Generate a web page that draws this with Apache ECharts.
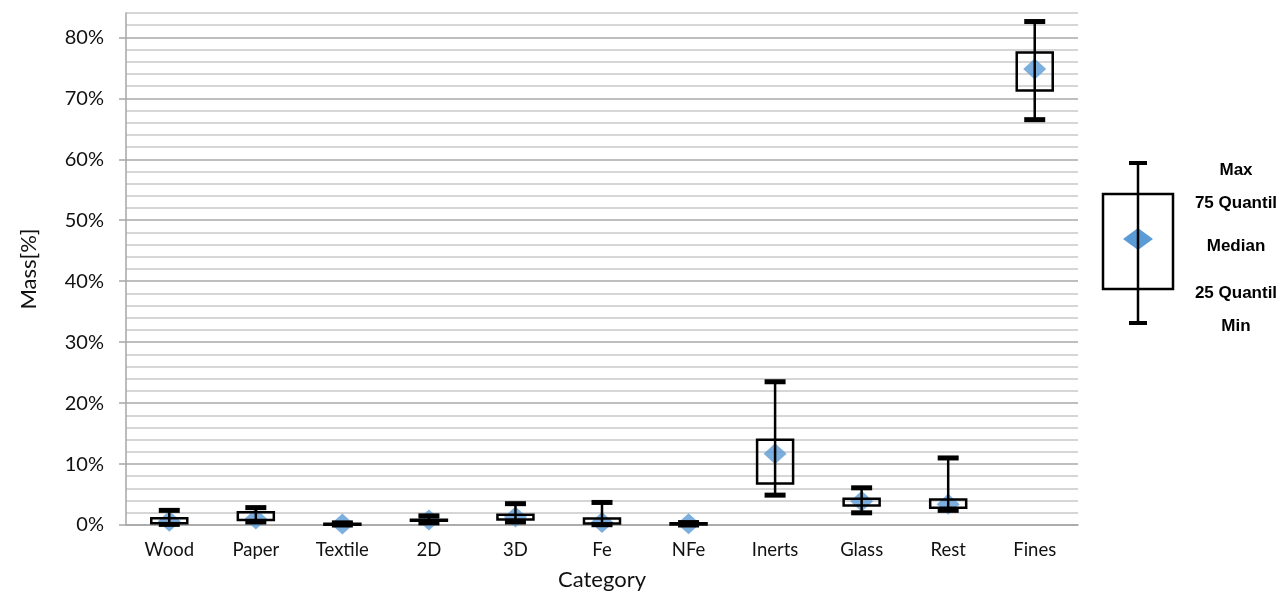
<!DOCTYPE html>
<html>
<head>
<meta charset="utf-8">
<title>Mass per category</title>
<script src="https://cdn.jsdelivr.net/npm/echarts@6/dist/echarts.min.js"></script>
<style>
	html, body {margin:0; padding:0; background:#fff;}
	#chart {width:1288px; height:593px;}
</style>
</head>
<body>
<div id="chart"></div>
<script>
var categories = ['Wood', 'Paper', 'Textile', '2D', '3D', 'Fe', 'NFe', 'Inerts', 'Glass', 'Rest', 'Fines'];
var minVals    = [0.1, 0.5, 0.0, 0.35, 0.5, 0.05, 0.0, 4.9, 2.0, 2.4, 66.5];
var q1Vals     = [0.3, 0.8, 0.05, 0.7, 0.9, 0.25, 0.1, 6.8, 3.2, 2.85, 71.3];
var medianVals = [0.6, 1.0, 0.15, 0.8, 1.3, 0.4, 0.2, 11.7, 3.9, 3.4, 74.8];
var q3Vals     = [1.1, 2.1, 0.2, 0.85, 1.7, 1.05, 0.3, 14.0, 4.3, 4.2, 77.5];
var maxVals    = [2.4, 2.85, 0.35, 1.5, 3.5, 3.7, 0.4, 23.5, 6.1, 11.0, 82.6];
var yTicks     = [0, 10, 20, 30, 40, 50, 60, 70, 80];
var legendTexts = ['Max', '75 Quantil', 'Median', '25 Quantil', 'Min'];

var FONT = 'Lato, "Open Sans", sans-serif';

// rows for the custom series: [index, min, q1, median, q3, max]
var boxRows = [];
for (var i = 0; i < categories.length; i++) {
	boxRows.push([i, minVals[i], q1Vals[i], medianVals[i], q3Vals[i], maxVals[i]]);
}

function renderBox(params, api) {
	var idx = api.value(0);
	var pMin = api.coord([idx, api.value(1)]);
	var pQ1 = api.coord([idx, api.value(2)]);
	var pQ3 = api.coord([idx, api.value(4)]);
	var pMax = api.coord([idx, api.value(5)]);
	var x = pMin[0];
	var boxW = 36, capW = 21;
	return {
		type: 'group',
		children: [
			{type: 'rect', shape: {x: x - boxW / 2, y: pQ3[1], width: boxW, height: pQ1[1] - pQ3[1]},
				style: {stroke: '#000', lineWidth: 2.5, fill: 'transparent'}},
			{type: 'line', shape: {x1: x, y1: pMax[1], x2: x, y2: pMin[1]},
				style: {stroke: '#000', lineWidth: 2.5}},
			{type: 'line', shape: {x1: x - capW / 2, y1: pMax[1], x2: x + capW / 2, y2: pMax[1]},
				style: {stroke: '#000', lineWidth: 5}},
			{type: 'line', shape: {x1: x - capW / 2, y1: pMin[1], x2: x + capW / 2, y2: pMin[1]},
				style: {stroke: '#000', lineWidth: 5}}
		]
	};
}

// explanation box on the right, plain drawing
var lx = 1138;
var legendGraphic = [
	{type: 'rect', shape: {x: 1103, y: 194, width: 70, height: 95}, style: {stroke: '#000', lineWidth: 2.5, fill: 'transparent'}, z: 5},
	{type: 'polygon', shape: {points: [[lx - 15, 239], [lx, 228], [lx + 15, 239], [lx, 250]]}, style: {fill: '#5b9bd5'}, z: 5},
	{type: 'line', shape: {x1: lx, y1: 163, x2: lx, y2: 323}, style: {stroke: '#000', lineWidth: 2.5}, z: 6},
	{type: 'line', shape: {x1: lx - 9, y1: 163, x2: lx + 9, y2: 163}, style: {stroke: '#000', lineWidth: 4}, z: 6},
	{type: 'line', shape: {x1: lx - 9, y1: 323, x2: lx + 9, y2: 323}, style: {stroke: '#000', lineWidth: 4}, z: 6}
];
var legendY = [170, 203, 246, 293, 326];
for (var j = 0; j < legendTexts.length; j++) {
	legendGraphic.push({
		type: 'text', z: 6,
		style: {text: legendTexts[j], x: 1236, y: legendY[j], align: 'center', verticalAlign: 'middle',
			font: 'bold 17px "Liberation Sans", Arial, sans-serif', fill: '#000'}
	});
}

var chart = echarts.init(document.getElementById('chart'));
chart.setOption({
	animation: false,
	backgroundColor: '#fff',
	grid: {left: 126, right: 210, top: 13, bottom: 68, outerBoundsMode: 'none'},
	xAxis: {
		type: 'category',
		data: categories,
		name: 'Category',
		nameLocation: 'middle',
		nameGap: 44,
		nameTextStyle: {fontFamily: FONT, fontSize: 22, color: '#111'},
		axisLine: {lineStyle: {color: '#a6a6a6', width: 1.5}},
		axisTick: {length: 6, lineStyle: {color: '#a6a6a6', width: 1.5}},
		axisLabel: {fontFamily: FONT, fontSize: 18.5, color: '#111', margin: 16},
		splitLine: {show: false}
	},
	yAxis: [
		{
			// grid lines every 2%
			type: 'value',
			min: 0,
			max: 84,
			interval: 2,
			name: 'Mass[%]',
			nameLocation: 'middle',
			nameGap: 86,
			nameTextStyle: {fontFamily: FONT, fontSize: 22, color: '#111'},
			axisLine: {show: true, lineStyle: {color: '#a6a6a6', width: 1.5}},
			axisTick: {show: false},
			axisLabel: {show: false},
			splitLine: {lineStyle: {color: ['#a9a9a9', '#c9c9c9', '#c9c9c9', '#c9c9c9', '#c9c9c9'], width: 1.5}}
		},
		{
			// labels and ticks every 10%
			type: 'value',
			position: 'left',
			min: 0,
			max: 84,
			interval: 2,
			axisLine: {show: false},
			axisTick: {show: true, customValues: yTicks, length: 7, lineStyle: {color: '#a6a6a6', width: 1.5}},
			axisLabel: {customValues: yTicks, formatter: '{value}%', fontFamily: FONT, fontSize: 20, color: '#111', margin: 22},
			splitLine: {show: false}
		}
	],
	series: [
		{
			name: 'Median',
			type: 'scatter',
			data: medianVals,
			symbol: 'diamond',
			symbolSize: [23, 21],
			itemStyle: {color: '#5b9bd5'},
			z: 2
		},
		{
			name: 'Range',
			type: 'custom',
			data: boxRows,
			encode: {x: 0, y: [1, 2, 3, 4, 5]},
			renderItem: renderBox,
			z: 3
		}
	],
	graphic: legendGraphic
});
</script>
</body>
</html>
